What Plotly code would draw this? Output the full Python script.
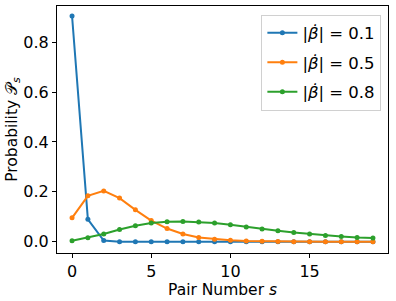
import plotly.graph_objects as go

pairs = list(range(20))
p_01 = [0.905, 0.090, 0.005, 0.0003, 0.0, 0.0, 0.0, 0.0, 0.0, 0.0,
        0.0, 0.0, 0.0, 0.0, 0.0, 0.0, 0.0, 0.0, 0.0, 0.0]
p_05 = [0.096, 0.184, 0.204, 0.175, 0.128, 0.085, 0.053, 0.031, 0.017, 0.010,
        0.006, 0.003, 0.002, 0.001, 0.0005, 0.0003, 0.0002, 0.0001, 0.0, 0.0]
p_08 = [0.004, 0.016, 0.031, 0.049, 0.064, 0.075, 0.080, 0.081, 0.079, 0.075,
        0.068, 0.059, 0.051, 0.044, 0.037, 0.031, 0.025, 0.021, 0.017, 0.015]
labels = ["|<i>β\u0307</i>| = 0.1", "|<i>β\u0307</i>| = 0.5", "|<i>β\u0307</i>| = 0.8"]
colors = ["#1f77b4", "#ff7f0e", "#2ca02c"]

fig = go.Figure()
for i, (vals, lab, col) in enumerate(zip([p_01, p_05, p_08], labels, colors)):
    fig.add_trace(go.Scatter(
        x=pairs, y=vals, mode="lines+markers", name=lab,
        legendgroup=f"g{i}",
        line=dict(color=col, width=2),
        marker=dict(color=col, size=5, symbol="circle"),
    ))

font = "DejaVu Sans"
fig.update_layout(
    width=396, height=301,
    margin=dict(l=57, r=8, t=6, b=48, autoexpand=False),
    plot_bgcolor="white", paper_bgcolor="white",
    font=dict(family=font, size=16, color="black"),
    showlegend=True,
    legend=dict(
        x=0.98, y=0.965, xanchor="right", yanchor="top",
        bgcolor="rgba(255,255,255,0.8)", bordercolor="#d0d0d0", borderwidth=1,
        font=dict(family=font, size=16.5, color="black"),
        tracegroupgap=5,
    ),
)
fig.update_xaxes(
    range=[-0.95, 19.95], tickvals=[0, 5, 10, 15], automargin=False,
    showline=True, linecolor="black", linewidth=1, mirror=True,
    ticks="outside", ticklen=4, tickcolor="black", showgrid=False, zeroline=False,
    tickfont=dict(size=16),
    title=dict(text="Pair Number <i>s</i>", font=dict(size=15.5), standoff=3),
)
fig.update_yaxes(
    range=[-0.045, 0.945], tickvals=[0, 0.2, 0.4, 0.6, 0.8], tickformat=".1f",
    automargin=False,
    showline=True, linecolor="black", linewidth=1, mirror=True,
    ticks="outside", ticklen=4, tickcolor="black", showgrid=False, zeroline=False,
    tickfont=dict(size=16),
    title=dict(text="Probability 𝒫<sub><i>s</i></sub>", font=dict(size=15.5), standoff=0),
)
fig.write_html("out.html", config={"displayModeBar": False},
               post_script="document.body.style.margin='0';")
